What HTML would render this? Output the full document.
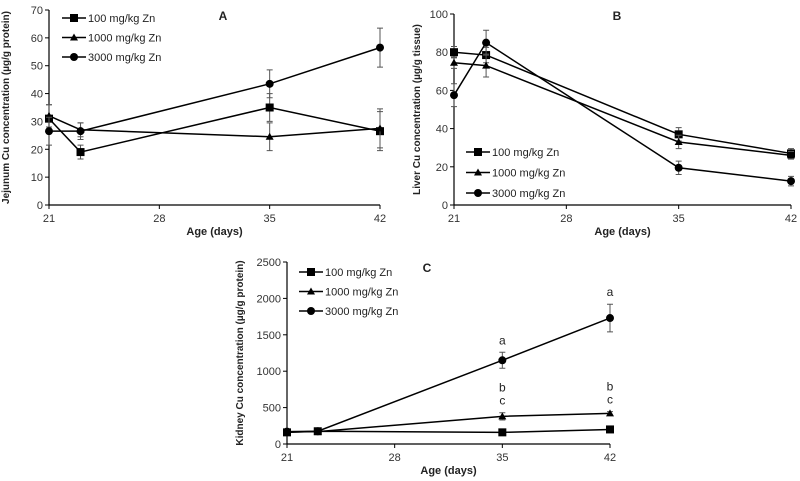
<!DOCTYPE html>
<html><head><meta charset="utf-8"><style>
body{margin:0;background:#fff}
svg{display:block;font-family:"Liberation Sans",sans-serif}
</style></head><body>
<svg id="fig" width="800" height="481" viewBox="0 0 800 481"></svg>
<script>
const ages=[21,23,35,42];
const seriesNames=["100 mg/kg Zn","1000 mg/kg Zn","3000 mg/kg Zn"];
const markers=["square","triangle","circle"];
// Panel A: jejunum
const jejunum100=[31,19,35,26.5];
const jejunum1000=[32,27,24.5,27.5];
const jejunum3000=[26.5,26.5,43.5,56.5];
const jejunumErr100=[5,2.5,5,7];
const jejunumErr1000=[4,2.5,5,7];
const jejunumErr3000=[5,3,5,7];
const jejunumTicks=[0,10,20,30,40,50,60,70];
// Panel B: liver
const liver100=[80,78.5,37,27];
const liver1000=[74.5,73,33,26];
const liver3000=[57.5,85,19.5,12.5];
const liverErr100=[3,4,3.5,2.5];
const liverErr1000=[3,6,3.5,2];
const liverErr3000=[6,6.5,3.5,2.5];
const liverTicks=[0,20,40,60,80,100];
// Panel C: kidney
const kidney100=[160,175,160,200];
const kidney1000=[165,170,380,420];
const kidney3000=[170,175,1150,1730];
const kidneyErr100=[20,20,20,20];
const kidneyErr1000=[20,20,50,25];
const kidneyErr3000=[20,20,110,190];
const kidneyTicks=[0,500,1000,1500,2000,2500];
const xTicks=[21,28,35,42];
const kidneyLetters35=["a","b","c"];
const kidneyLetters42=["a","b","c"];

const svg=document.getElementById('fig');
const NS="http://www.w3.org/2000/svg";
function mk(tag,attrs,parent){const e=document.createElementNS(NS,tag);for(const k in attrs)e.setAttribute(k,attrs[k]);(parent||svg).appendChild(e);return e;}
function marker(g,type,x,y){
  let m;
  if(type==="square")m=mk('rect',{x:x-4,y:y-4,width:8,height:8,fill:'#000'},g);
  else if(type==="triangle")m=mk('polygon',{points:`${x},${y-4} ${x+4},${y+3} ${x-4},${y+3}`,fill:'#000'},g);
  else m=mk('circle',{cx:x,cy:y,r:4,fill:'#000'},g);
  return m;
}
function panel(o){
  const g=mk('g',{});
  
  
  const sx=v=>o.x0+(v-21)/(21)*(o.x1-o.x0);
  const sy=v=>o.y0-(v/o.ymax)*(o.y0-o.y1);
  const ax=mk('line',{x1:o.x0,y1:o.y1,x2:o.x0,y2:o.y0,stroke:'#000','stroke-width':1.2},g);
  
  const axx=mk('line',{x1:o.x0,y1:o.y0,x2:o.x1,y2:o.y0,stroke:'#000','stroke-width':1.2},g);
  
  o.yTicks.forEach(t=>{
    mk('line',{x1:o.x0-4,y1:sy(t),x2:o.x0,y2:sy(t),stroke:'#000'},g);
    const tl=mk('text',{x:o.x0-6,y:sy(t)+4,'text-anchor':'end','font-size':11,fill:'#333'},g);
    tl.textContent=t;
    
  });
  xTicks.forEach(t=>{
    mk('line',{x1:sx(t),y1:o.y0,x2:sx(t),y2:o.y0+4,stroke:'#000'},g);
    const tl=mk('text',{x:sx(t),y:o.y0+17,'text-anchor':'middle','font-size':11,fill:'#333'},g);
    tl.textContent=t;
    
  });
  const xt=mk('text',{x:(o.x0+o.x1)/2,y:o.y0+30,'text-anchor':'middle','font-size':11,'font-weight':'bold',fill:'#222'},g);
  xt.textContent="Age (days)";
  
  const yt=mk('text',{x:0,y:0,'text-anchor':'middle','font-size':10,'font-weight':'bold',fill:'#222',transform:`translate(${o.x0-o.ytOff},${(o.y0+o.y1)/2}) rotate(-90)`},g);
  yt.textContent=o.ytitle;
  
  const lt=mk('text',{x:o.lx,y:o.ly,'text-anchor':'middle','font-size':12,'font-weight':'bold',fill:'#222'},g);
  lt.textContent=o.letter;
  
  o.series.forEach((s,i)=>{
    const sg=mk('g',{},g);
    
    
    const pts=ages.map((a,j)=>sx(a)+','+sy(s[j])).join(' ');
    mk('polyline',{points:pts,fill:'none',stroke:'#000','stroke-width':1.5},sg);
    ages.forEach((a,j)=>{
      const e=o.errs[i][j],x=sx(a);
      mk('path',{d:`M${x},${sy(s[j]-e)}V${sy(s[j]+e)}M${x-3},${sy(s[j]-e)}H${x+3}M${x-3},${sy(s[j]+e)}H${x+3}`,stroke:'#555','stroke-width':1,fill:'none'},sg);
      const m=marker(sg,markers[i],x,sy(s[j]));
      
      
    });
  });
  seriesNames.forEach((n,i)=>{
    const y=o.legY+i*o.legDy;
    const le=mk('g',{},g);
    
    
    mk('line',{x1:o.legX,y1:y,x2:o.legX+24,y2:y,stroke:'#000','stroke-width':1.5},le);
    marker(le,markers[i],o.legX+12,y);
    const t=mk('text',{x:o.legX+26,y:y+4,'font-size':11,fill:'#222'},le);
    t.textContent=n;
  });
  return {sx,sy,g};
}
panel({name:'panel-a-jejunum',x0:49,x1:380,y0:205,y1:10,ymax:70,yTicks:jejunumTicks,
  series:[jejunum100,jejunum1000,jejunum3000],errs:[jejunumErr100,jejunumErr1000,jejunumErr3000],
  ytitle:"Jejunum Cu concentration (µg/g protein)",ytOff:40,letter:"A",lx:223,ly:20,legX:62,legY:18,legDy:19.5});
panel({name:'panel-b-liver',x0:454,x1:791,y0:205,y1:14,ymax:100,yTicks:liverTicks,
  series:[liver100,liver1000,liver3000],errs:[liverErr100,liverErr1000,liverErr3000],
  ytitle:"Liver Cu concentration (µg/g tissue)",ytOff:34,letter:"B",lx:617,ly:20,legX:466,legY:152,legDy:20.5});
const pc=panel({name:'panel-c-kidney',x0:287,x1:610,y0:444,y1:262,ymax:2500,yTicks:kidneyTicks,
  series:[kidney100,kidney1000,kidney3000],errs:[kidneyErr100,kidneyErr1000,kidneyErr3000],
  ytitle:"Kidney Cu concentration (µg/g protein)",ytOff:44,letter:"C",lx:427,ly:272,legX:299,legY:272,legDy:19.5});
[[35,kidneyLetters35,kidney3000[2]+kidneyErr3000[2],kidney1000[2]+kidneyErr1000[2]],[42,kidneyLetters42,kidney3000[3]+kidneyErr3000[3],kidney1000[3]+kidneyErr1000[3]]].forEach(([a,L,top3,top1])=>{
  const x=pc.sx(a);
  const t1=mk('text',{x:x,y:pc.sy(top3)-8,'text-anchor':'middle','font-size':12,fill:'#222'},pc.g);t1.textContent=L[0];
  
  const t2=mk('text',{x:x,y:pc.sy(top1)-21,'text-anchor':'middle','font-size':12,fill:'#222'},pc.g);t2.textContent=L[1];
  
  const t3=mk('text',{x:x,y:pc.sy(top1)-8,'text-anchor':'middle','font-size':12,fill:'#222'},pc.g);t3.textContent=L[2];
  
});
</script>
</body></html>
